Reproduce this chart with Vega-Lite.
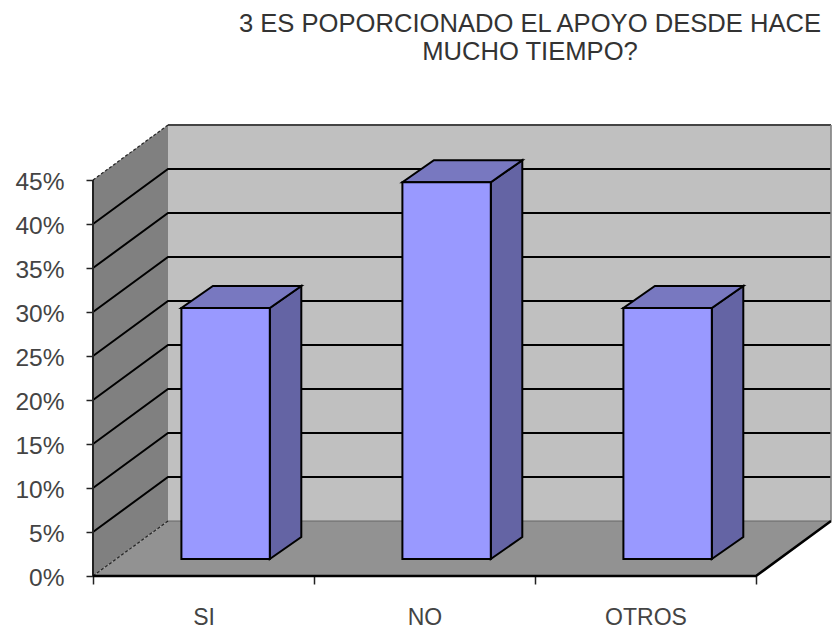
{
 "$schema":"https://vega.github.io/schema/vega-lite/v6.json",
 "width":740,"height":451,
 "autosize":"none",
 "padding":{"left":93,"top":125,"right":0,"bottom":54},
 "background":"white",
 "title":{"text":["3 ES POPORCIONADO EL APOYO DESDE HACE","MUCHO TIEMPO?"],"font":"Liberation Sans","fontSize":25.6,"fontWeight":"normal","color":"#333333","anchor":"middle","dx":67,"dy":-51,"lineHeight":28.5},
 "config":{"view":{"stroke":null},"axis":{"grid":false}},
 "datasets":{
  "leftWall":[{"x":0,"y":0,"y2":45},{"x":0.3394,"y":6.25,"y2":51.25}],
  "backWall":[{"x":0.3394,"y":6.25,"y2":51.25},{"x":3.3394,"y":6.25,"y2":51.25}],
  "floor":[{"x":0,"y":0,"y2":0},{"x":0.3394,"y":0,"y2":6.25},{"x":3,"y":0,"y2":6.25},{"x":3.3394,"y":6.25,"y2":6.25}],
  "grid":[
   {"level":5,"x":0,"y":5},{"level":5,"x":0.3394,"y":11.25},{"level":5,"x":3.3394,"y":11.25},
   {"level":10,"x":0,"y":10},{"level":10,"x":0.3394,"y":16.25},{"level":10,"x":3.3394,"y":16.25},
   {"level":15,"x":0,"y":15},{"level":15,"x":0.3394,"y":21.25},{"level":15,"x":3.3394,"y":21.25},
   {"level":20,"x":0,"y":20},{"level":20,"x":0.3394,"y":26.25},{"level":20,"x":3.3394,"y":26.25},
   {"level":25,"x":0,"y":25},{"level":25,"x":0.3394,"y":31.25},{"level":25,"x":3.3394,"y":31.25},
   {"level":30,"x":0,"y":30},{"level":30,"x":0.3394,"y":36.25},{"level":30,"x":3.3394,"y":36.25},
   {"level":35,"x":0,"y":35},{"level":35,"x":0.3394,"y":41.25},{"level":35,"x":3.3394,"y":41.25},
   {"level":40,"x":0,"y":40},{"level":40,"x":0.3394,"y":46.25},{"level":40,"x":3.3394,"y":46.25}
  ],
  "wallEdges":[{"x":0.3394,"y":51.25},{"x":3.3394,"y":51.25}],
  "wallEdgeRight":[{"x":3.3394,"y":51.25},{"x":3.3394,"y":6.25}],
  "floorBack":[{"x":0.3394,"y":6.25},{"x":3.3394,"y":6.25}],
  "dashTop":[{"part":"top","x":0,"y":45},{"part":"top","x":0.3394,"y":51.25},{"part":"bottom","x":0,"y":0},{"part":"bottom","x":0.3394,"y":6.25}],
  "yAxisLine":[{"x":0,"y":0},{"x":0,"y":45}],
  "frontEdge":[{"x":0,"y":0},{"x":3,"y":0},{"x":3.3394,"y":6.25}],
  "barFront":[
   {"cat":"SI","share":28.57,"x":0.4,"x2":0.8,"y":1.93,"y2":30.45},
   {"cat":"NO","share":42.86,"x":1.4,"x2":1.8,"y":1.93,"y2":44.75},
   {"cat":"OTROS","share":28.57,"x":2.4,"x2":2.8,"y":1.93,"y2":30.45}
  ],
  "barSide":[
   {"cat":"SI","x":0.8,"y":1.93,"y2":30.45},{"cat":"SI","x":0.9425,"y":4.43,"y2":32.95},
   {"cat":"NO","x":1.8,"y":1.93,"y2":44.75},{"cat":"NO","x":1.9425,"y":4.43,"y2":47.25},
   {"cat":"OTROS","x":2.8,"y":1.93,"y2":30.45},{"cat":"OTROS","x":2.9425,"y":4.43,"y2":32.95}
  ],
  "barTop":[
   {"cat":"SI","x":0.4,"y":30.45,"y2":30.45},{"cat":"SI","x":0.5425,"y":30.45,"y2":32.95},{"cat":"SI","x":0.8,"y":30.45,"y2":32.95},{"cat":"SI","x":0.9425,"y":32.95,"y2":32.95},
   {"cat":"NO","x":1.4,"y":44.75,"y2":44.75},{"cat":"NO","x":1.5425,"y":44.75,"y2":47.25},{"cat":"NO","x":1.8,"y":44.75,"y2":47.25},{"cat":"NO","x":1.9425,"y":47.25,"y2":47.25},
   {"cat":"OTROS","x":2.4,"y":30.45,"y2":30.45},{"cat":"OTROS","x":2.5425,"y":30.45,"y2":32.95},{"cat":"OTROS","x":2.8,"y":30.45,"y2":32.95},{"cat":"OTROS","x":2.9425,"y":32.95,"y2":32.95}
  ]
 },
 "encoding":{
  "x":{"field":"x","type":"quantitative","scale":{"domain":[0,3.3484],"nice":false,"zero":false},
   "axis":{"title":null,"domain":false,"values":[0,0.5,1,1.5,2,2.5,3],
    "labelExpr":"datum.value==0.5?'SI':datum.value==1.5?'NO':datum.value==2.5?'OTROS':''",
    "labelFont":"Liberation Sans","labelFontSize":23,"labelColor":"#444444","labelPadding":22,"labelFlush":false,"labelOverlap":false,"labelBound":false,
    "tickColor":"#222222","tickWidth":1.5,"tickSize":8,
    "tickOpacity":{"condition":{"test":"datum.value % 1 == 0","value":1},"value":0}}},
  "y":{"field":"y","type":"quantitative","scale":{"domain":[0,51.25],"nice":false,"zero":false},
   "axis":{"title":null,"domain":false,"values":[0,5,10,15,20,25,30,35,40,45],"labelExpr":"datum.value+'%'",
    "labelFont":"Liberation Sans","labelFontSize":24.5,"labelColor":"#444444","labelPadding":22,"labelOffset":2,"labelOverlap":false,"labelBound":false,
    "tickColor":"#222222","tickWidth":1.5,"tickSize":7}}
 },
 "layer":[
  {"data":{"name":"leftWall"},"mark":{"type":"area","fill":"#808080"},"encoding":{"y2":{"field":"y2"}}},
  {"data":{"name":"backWall"},"mark":{"type":"area","fill":"#c0c0c0"},"encoding":{"y2":{"field":"y2"}}},
  {"data":{"name":"floor"},"mark":{"type":"area","fill":"#929292"},"encoding":{"y2":{"field":"y2"}}},
  {"data":{"name":"grid"},"mark":{"type":"line","stroke":"#000000","strokeWidth":2},"encoding":{"detail":{"field":"level"}}},
  {"data":{"name":"wallEdges"},"mark":{"type":"line","stroke":"#444444","strokeWidth":2}},
  {"data":{"name":"wallEdgeRight"},"mark":{"type":"line","stroke":"#808080","strokeWidth":1.6}},
  {"data":{"name":"floorBack"},"mark":{"type":"line","stroke":"#666666","strokeWidth":1.2}},
  {"data":{"name":"dashTop"},"mark":{"type":"line","stroke":"#222222","strokeWidth":1.2,"strokeDash":[3,2]},"encoding":{"detail":{"field":"part"}}},
  {"data":{"name":"yAxisLine"},"mark":{"type":"line","stroke":"#222222","strokeWidth":2}},
  {"data":{"name":"frontEdge"},"mark":{"type":"line","stroke":"#000000","strokeWidth":2.5}},
  {"data":{"name":"barSide"},"mark":{"type":"area","fill":"#6464a4","stroke":"#000000","strokeWidth":2},"encoding":{"y2":{"field":"y2"},"detail":{"field":"cat"}}},
  {"data":{"name":"barTop"},"mark":{"type":"area","fill":"#7878c0","stroke":"#000000","strokeWidth":2},"encoding":{"y2":{"field":"y2"},"detail":{"field":"cat"}}},
  {"data":{"name":"barFront"},"mark":{"type":"rect","fill":"#9999ff","stroke":"#000000","strokeWidth":2},"encoding":{"x2":{"field":"x2"},"y2":{"field":"y2"}}}
 ]
}
